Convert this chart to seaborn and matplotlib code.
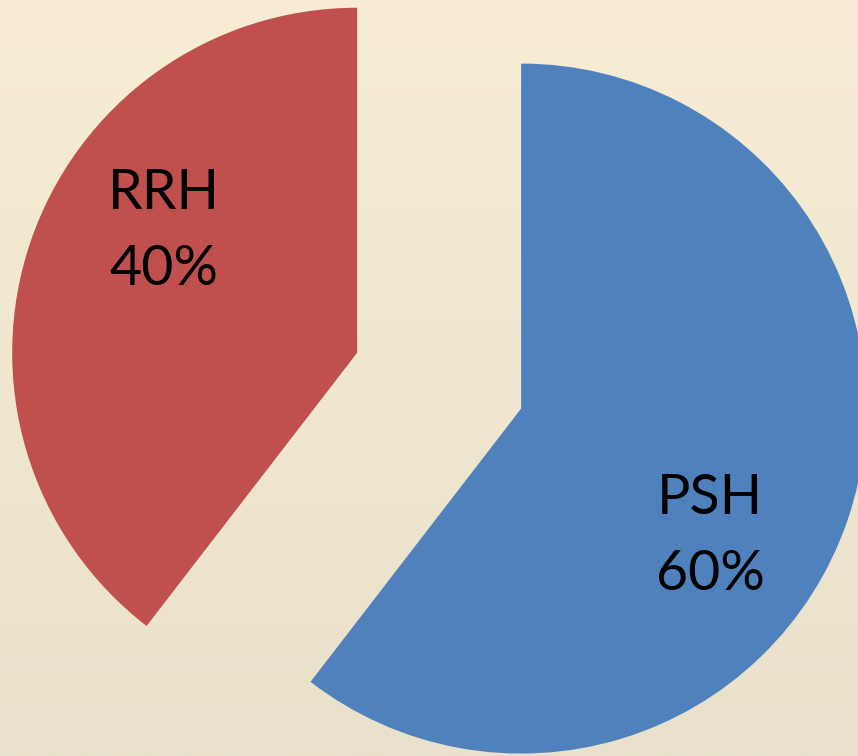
import numpy as np
import matplotlib
matplotlib.use("Agg")
import matplotlib.pyplot as plt
import seaborn as sns

# Data
categories = ["PSH", "RRH"]
shares = [60.45, 39.55]
label_text = ["PSH\n60%", "RRH\n40%"]
colors = ["#4F81BD", "#C0504D"]

sns.set_theme(style="white")
plt.rcParams['font.family'] = ['Lato', 'DejaVu Sans']

fig = plt.figure(figsize=(8.58, 7.56), dpi=100)
ax = fig.add_axes([0, 0, 1, 1])

# coordinate system: pie radius = 1, centre at origin
R_PX = 345.0
cx, cy = 439.15, 380.65
EXPL = 0.251
xl = (-cx / R_PX, (858 - cx) / R_PX)
yl = (-(756 - cy) / R_PX, cy / R_PX)

# background gradient
top = np.array([248, 237, 212]) / 255
bot = np.array([233, 225, 203]) / 255
t = np.linspace(0, 1, 256)[:, None]
grad = (top[None, :] * (1 - t) + bot[None, :] * t)[:, None, :]
ax.imshow(grad, extent=(xl[0], xl[1], yl[0], yl[1]), aspect='auto',
          origin='upper', zorder=0, interpolation='bilinear')

wedges, _ = ax.pie(shares, colors=colors, startangle=90, counterclock=False,
                   explode=[EXPL, EXPL], radius=1.0, center=(0, 0),
                   wedgeprops=dict(linewidth=0, zorder=2), frame=True)

# label positions relative to the exploded wedge apex (pixels)
offsets = {"PSH": (189, -128), "RRH": (-193, 121)}
fr = np.array(shares) / sum(shares) * 360
mids = [90 - fr[0] / 2, 90 - fr[0] - fr[1] / 2]
for i, cat in enumerate(categories):
    a = np.deg2rad(mids[i])
    ex = EXPL * np.cos(a)
    ey = EXPL * np.sin(a)
    dx, dy = offsets[cat]
    ax.text(ex + dx / R_PX, ey + dy / R_PX, label_text[i], ha='center', va='center',
            fontsize=40, color='black', linespacing=1.6, zorder=3)

ax.set_xlim(*xl)
ax.set_ylim(*yl)
ax.set_aspect('auto')
ax.axis('off')
fig.savefig("out.png", dpi=100)
